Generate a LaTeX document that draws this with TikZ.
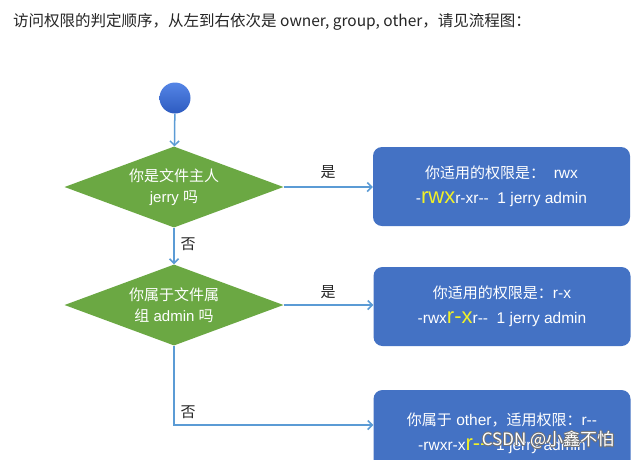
\documentclass[tikz,border=0pt]{standalone}
\usepackage{fontspec}
\setmainfont{Liberation Sans}[Ligatures=TeXOff]
\newfontfamily\cjk{Noto Sans CJK SC}[Ligatures=TeXOff]
\usetikzlibrary{shapes.geometric,arrows.meta}
\definecolor{dgreen}{HTML}{6BA843}
\definecolor{bbox}{HTML}{4472C4}
\definecolor{arr}{HTML}{5B9BD5}
\definecolor{yel}{HTML}{F0F028}
\definecolor{ctop}{HTML}{5585E6}
\definecolor{cbot}{HTML}{2D5BC0}
\newcommand{\yl}[1]{{\color{yel}\fontsize{22}{25}\selectfont #1}}
\begin{document}
\begin{tikzpicture}[x=1pt,y=-1pt,
 flow/.style={draw=arr, line width=1.5pt, -{Straight Barb[length=4.5pt,width=9pt]}},
 decision/.style={diamond, aspect=2.7, fill=dgreen, minimum width=219pt, minimum height=81pt, inner sep=0pt, text=white, align=center, font=\fontsize{15}{21}\selectfont},
 result/.style={rectangle, rounded corners=9pt, fill=bbox, text=white, minimum width=257pt, minimum height=79pt, align=center, font=\fontsize{15.5}{25}\selectfont},
 lbl/.style={font=\cjk\fontsize{15}{18}\selectfont, text=black!85, inner sep=0pt}
]
\clip (0,0) rectangle (631,459);
\fill[white] (0,0) rectangle (631,459);

\node[anchor=west, font=\cjk\fontsize{15.5}{18}\selectfont, text=black!85, inner sep=0pt] (title) at (13,22) {访问权限的判定顺序，从左到右依次是 owner, group, other，请见流程图：};

\node[circle, minimum size=31pt, inner sep=0pt, top color=ctop, bottom color=cbot] (start) at (175,98) {};

\node[decision] (d1) at (174,187) {{\cjk 你是文件主人}\\jerry {\cjk 吗}};
\node[decision] (d2) at (174,305) {{\cjk 你属于文件属}\\{\cjk 组} admin {\cjk 吗}};

\node[result] (b1) at (501.5,186.5) {{\cjk\fontsize{15}{25}\selectfont 你适用的权限是：}\ \ rwx\\-\yl{rwx}r-xr--\ \ 1 jerry admin};
\node[result] (b2) at (502,306.5) {{\cjk\fontsize{15}{25}\selectfont 你适用的权限是：}r-x\\-rwx\yl{r-x}r--\ \ 1 jerry admin};
\node[result, minimum height=87pt] (b3) at (502,433.5) {{\cjk\fontsize{15}{25}\selectfont 你属于} other{\cjk\fontsize{15}{25}\selectfont ，适用权限：}r--\\-rwxr-x\yl{r--}\ \ 1 jerry admin};

\draw[flow] (start) -- (d1);
\draw[flow] (d1.east) -- (d1.east -| b1.west);
\draw[flow] (d1) -- (d2);
\draw[flow] (d2.east) -- (d2.east -| b2.west);
\coordinate (b3in) at ([yshift=8.5pt]b3.west);
\draw[flow] (d2.south) |- (b3in);

\node[lbl] (yes1) at (328,172) {是};
\node[lbl] (no1) at (188,244) {否};
\node[lbl] (yes2) at (328,292) {是};
\node[lbl] (no2) at (188,412) {否};

\foreach \dx/\dy in {0.8/0,-0.8/0,0/0.8,0/-0.8,0.6/0.6,-0.6/0.6,0.6/-0.6,-0.6/-0.6}
  \node[font=\cjk\fontsize{17}{20}\selectfont, text=black!55, inner sep=0pt] at (548+\dx,440+\dy) {CSDN @小鑫不怕};
\node[font=\cjk\fontsize{17}{20}\selectfont, text=white, inner sep=0pt] (wm) at (548,440) {CSDN @小鑫不怕};
\end{tikzpicture}
\end{document}
